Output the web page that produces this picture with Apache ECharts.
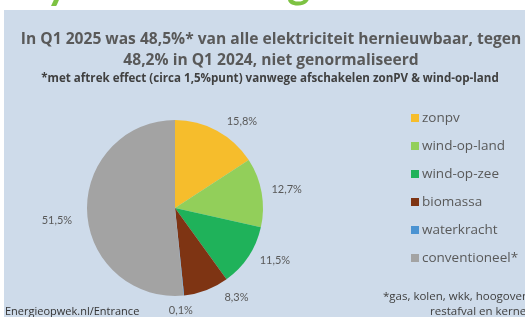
<!DOCTYPE html>
<html><head><meta charset="utf-8">
<script src="https://cdn.jsdelivr.net/npm/echarts@6/dist/echarts.min.js"></script>
<style>html,body{margin:0;padding:0;background:#fff}#c{width:525px;height:317px}</style>
</head><body><div id="c"></div>
<script>
const categories = ['zonpv','wind-op-land','wind-op-zee','biomassa','waterkracht','conventioneel*'];
const values = [15.8, 12.7, 11.5, 8.3, 0.1, 51.5];
const colors = ['#f6bd2c','#92cf5a','#1fb25a','#7e3413','#4b93d2','#a3a3a3'];
const titleLines = ['In Q1 2025 was 48,5%* van alle elektriciteit hernieuwbaar, tegen','48,2% in Q1 2024, niet genormaliseerd'];
const subtitle = '*met aftrek effect (circa 1,5%punt) vanwege afschakelen zonPV & wind-op-land';
const footnote = ['*gas, kolen, wkk, hoogovengas, afval,','restafval en kernenergie'];
const source = 'Energieopwek.nl/Entrance';

const chart = echarts.init(document.getElementById('c'), null, {renderer:'canvas'});
const font = 'Lato, "Open Sans", sans-serif';
const font2 = '"Open Sans", Lato, sans-serif';
chart.setOption({
  animation:false,
  backgroundColor:'#ffffff',
  textStyle:{fontFamily:font},
  title:[
    {text:titleLines.join('\n'), left:266, top:24, textAlign:'center',
     textStyle:{fontFamily:font2, fontSize:15.6, fontWeight:'bold', color:'#595959', lineHeight:21}},
    {text:subtitle, left:265, top:68, textAlign:'center',
     textStyle:{fontFamily:font2, fontSize:11.6, fontWeight:'bold', color:'#404040'}}
  ],
  graphic:[
    {type:'text', left:46, top:-37, z:0, style:{text:'y', fontFamily:font, fontSize:44, fontWeight:'bold', fill:'#7dc242'}},
    {type:'text', left:287, top:-38, z:0, style:{text:'g', fontFamily:font, fontSize:44, fontWeight:'bold', fill:'#7dc242'}},
    {type:'rect', z:1, shape:{x:4, y:10, width:521, height:307}, style:{fill:'#cedbea'}},
    {type:'text', z:5, left:5, top:306, style:{text:source, fontFamily:font2, fontSize:11, fill:'#333'}},
    {type:'text', z:5, left:383, top:291, style:{text:footnote[0], fontFamily:font2, fontSize:11.5, fill:'#404040'}},
    {type:'text', z:5, left:430, top:306, style:{text:footnote[1], fontFamily:font2, fontSize:11.5, fill:'#404040'}}
  ],
  legend:{
    orient:'vertical', left:406, top:106, itemWidth:8, itemHeight:8, itemGap:14, icon:'rect',
    data:categories,
    textStyle:{fontFamily:font2, fontSize:13.5, color:'#595959', padding:[0,0,0,-2]}
  },
  series:[{
    type:'pie', center:[175,208], radius:88, startAngle:90, clockwise:true,
    data:categories.map((n,i)=>({name:n, value:values[i], itemStyle:{color:colors[i]}})),
    label:{show:true, position:'outside', fontFamily:font, fontSize:11, color:'#595959',
      formatter:p=>p.value.toFixed(1).replace('.',',')+'%'},
    labelLine:{show:false, length:10, length2:0},
    labelLayout:function(p){
      if(p.dataIndex===4) return {align:'center', dx:-9};
      if(p.dataIndex===5) return {dy:8};
      return {};
    }
  }]
});
</script></body></html>
